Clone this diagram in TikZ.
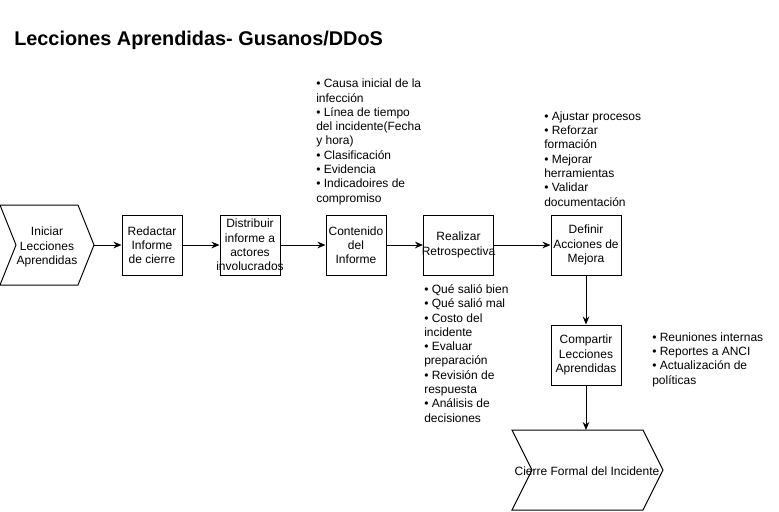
\documentclass[tikz,border=0pt]{standalone}
\usepackage{fontspec}
\setmainfont{Liberation Sans}
\usetikzlibrary{arrows.meta}
\tikzset{
    caja/.style={draw, line width=0.75pt, minimum width=45pt, minimum height=45pt, inner sep=0pt, align=center, font=\fontsize{9}{10.7}\selectfont},
    cajaancha/.style={caja, minimum width=52.5pt},
    texto/.style={inner sep=0pt, align=center, font=\fontsize{9}{10.7}\selectfont},
    lista/.style={anchor=base west, inner sep=0pt, align=left, font=\fontsize{9}{10.7}\selectfont},
    flecha/.style={-{Stealth[length=6pt,width=5pt]}, line width=0.75pt},
}

\begin{document}
\begin{tikzpicture}[x=0.75pt,y=0.75pt,yscale=-1,xscale=1]
\useasboundingbox (0,0) rectangle (779,511);

% Text Node
\draw (14,40) node [anchor=west, inner sep=0pt, font=\bfseries\fontsize{14.9}{17}\selectfont] (titulo) {Lecciones Aprendidas- Gusanos/DDoS};

%Shape: Step
\draw [line width=0.75pt] (0,205) -- (78,205) -- (94,245) -- (78,285) -- (0,285) -- (16,245) -- cycle ;
\coordinate (inicioPunta) at (94,245);
% Text Node
\draw (47,247) node [texto] (inicio) {Iniciar\\Lecciones\\Aprendidas};

%Shape: Rectangle
\draw (152,245) node [caja] (redactar) {Redactar\\Informe\\de cierre};
%Shape: Rectangle
\draw (250,245) node [caja] (distribuir) {Distribuir\\informe a\\actores\\\makebox[0pt]{involucrados}};
%Shape: Rectangle
\draw (356,245) node [caja] (contenido) {Contenido\\del\\Informe};
%Shape: Rectangle
\draw (458.5,245) node [cajaancha] (realizar) {Realizar\\\makebox[0pt]{Retrospectiva}};
%Shape: Rectangle
\draw (586,245) node [cajaancha] (definir) {Definir\\Acciones de\\Mejora};
%Shape: Rectangle
\draw (586,355) node [cajaancha] (compartir) {Compartir\\Lecciones\\Aprendidas};

%Shape: Step
\draw [line width=0.75pt] (512,430) -- (643,430) -- (663,470) -- (643,510) -- (512,510) -- (532,470) -- cycle ;
\coordinate (cierreTope) at (586,430);
% Text Node
\draw (587,471) node [texto] (cierre) {Cierre Formal del Incidente};

% Text Node (anchored at the baseline of the last line)
\draw (316,202) node [lista] (listaContenido) {• Causa inicial de la\\infección\\• Línea de tiempo\\del incidente(Fecha\\y hora)\\• Clasificación\\• Evidencia\\• Indicadoires de\\compromiso};
% Text Node
\draw (424,422) node [lista] (listaRealizar) {• Qué salió bien\\• Qué salió mal\\• Costo del\\incidente\\• Evaluar\\preparación\\• Revisión de\\respuesta\\• Análisis de\\decisiones};
% Text Node
\draw (544,206) node [lista] (listaDefinir) {• Ajustar procesos\\• Reforzar\\formación\\• Mejorar\\herramientas\\• Validar\\documentación};
% Text Node
\draw (652,384) node [lista] (listaCompartir) {• Reuniones internas\\• Reportes a ANCI\\• Actualización de\\políticas};

%Straight Lines
\draw [flecha] (inicioPunta) -- (redactar) ;
\draw [flecha] (redactar) -- (distribuir) ;
\draw [flecha] (distribuir) -- (contenido) ;
\draw [flecha] (contenido) -- (realizar) ;
\draw [flecha] (realizar) -- (definir) ;
\draw [flecha] (definir) -- (compartir) ;
\draw [flecha] (compartir) -- (cierreTope) ;

\end{tikzpicture}
\end{document}
